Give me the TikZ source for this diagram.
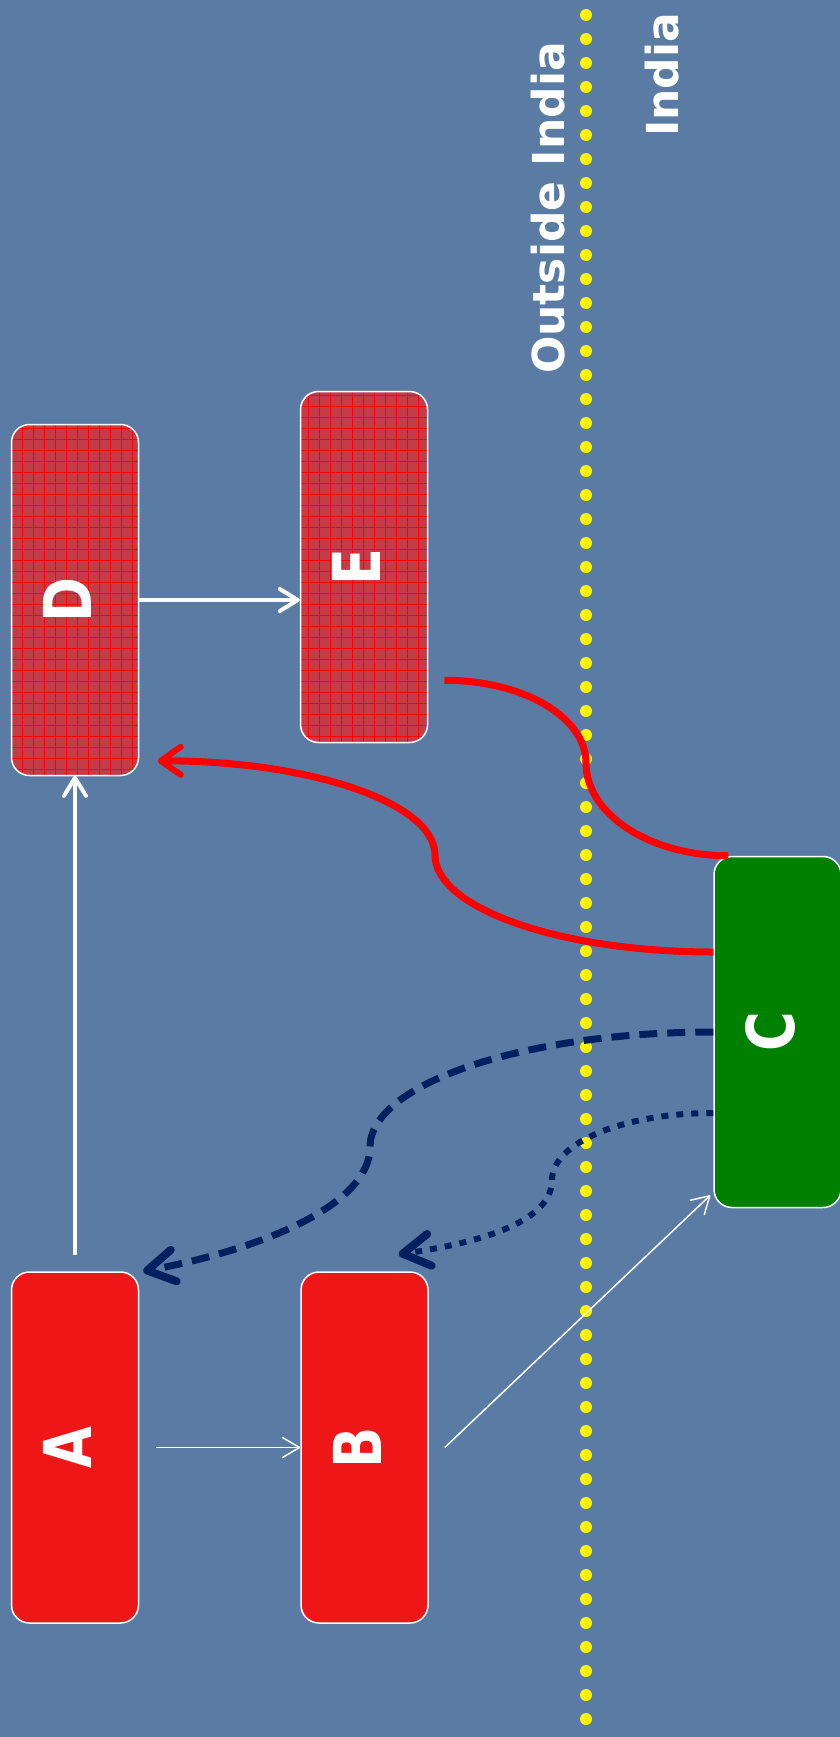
\documentclass[tikz,border=0pt]{standalone}
\usepackage{fontspec}
\setmainfont{DejaVu Sans}
\newfontfamily\boxfont{DejaVu Sans}[FakeStretch=0.82]
\usepackage{tikz}
\usetikzlibrary{arrows.meta}
\usetikzlibrary{positioning}
\usetikzlibrary{patterns.meta}

\definecolor{bgblue}{RGB}{90,124,164}
\definecolor{boxred}{RGB}{238,22,22}
\definecolor{boxdark}{RGB}{196,60,72}
\definecolor{cgreen}{RGB}{0,128,0}
\definecolor{navy}{RGB}{0,32,96}

\newcommand{\boxlabel}[1]{\rotatebox{90}{#1\vphantom{g}}}

\begin{document}
\begin{tikzpicture}[x=1pt,y=-1pt,
  box/.style={draw=white,line width=1.5pt,rounded corners=18pt,minimum width=127pt,minimum height=351pt,inner sep=0pt,text=white,font=\boxfont\bfseries\fontsize{66}{66}\selectfont},
  redbox/.style={box,fill=boxred},
  darkbox/.style={box,preaction={fill=boxdark},pattern={Hatch[distance=11pt,line width=0.6pt]},pattern color=red},
  greenbox/.style={box,fill=cgreen},
  side/.style={text=white,font=\bfseries\fontsize{44}{44}\selectfont,rotate=90,inner sep=0pt},
  flow/.style={draw=white,line width=4pt,-{Straight Barb[round,length=18pt,width=22pt]}},
  thinflow/.style={draw=white,line width=1.5pt,-{Straight Barb[round,length=17pt,width=20pt]}},
  redline/.style={draw=red,line width=7pt},
  navydash/.style={draw=navy,line width=7pt,dash pattern=on 18pt off 10pt,-{Straight Barb[round,length=27pt,width=32pt,line width=8pt]}},
  navydot/.style={draw=navy,line width=6pt,dash pattern=on 7pt off 8pt,-{Straight Barb[round,length=27pt,width=32pt,line width=8pt]}}]
  \useasboundingbox (0,0) rectangle (840,1737);
  \fill[bgblue] (0,0) rectangle (840,1737);
  %border line
  \draw[yellow,line width=12pt,line cap=round,dash pattern=on 0pt off 24pt] (586,15) -- (586,1725);
  \node[side] (outside) at (548,208) {Outside India};
  \node[side] (india) at (662,75) {India};
  %boxes
  \node[redbox] (A) at (75,1447.5) {\boxlabel{A}};
  \node[redbox,right=161pt of A] (B) {\boxlabel{B}};
  \node[darkbox] (D) at (75,600) {\boxlabel{D}};
  \node[darkbox,right=161pt of D,yshift=33pt] (E) {\boxlabel{E}};
  \node[greenbox] (C) at (777.5,1032) {\boxlabel{C}};
  %straight arrows
  \draw[flow] ([yshift=16pt]A.north) -- (D.south);
  \draw[flow] (D.east) -- (D.east -| E.west);
  \draw[thinflow] ([xshift=17pt]A.east) -- (B.west);
  \draw[thinflow] ([xshift=16pt]B.east) -- ([xshift=-3pt,yshift=13pt]C.south west);
  %curves
  \draw[redline] ([xshift=16pt,yshift=63pt]E.south east) .. controls +(79,0) and +(0,-46) .. (586,763) .. controls +(0,51) and +(-79,0) .. ([xshift=15pt]C.north west);
  \draw[redline,-{Straight Barb[round,length=20pt,width=28pt,line width=6pt]}] ([yshift=80pt]C.west) .. controls +(-154,0) and +(0,53) .. (435,855) .. controls +(0,-52) and +(153,0) .. ([xshift=19pt,yshift=15pt]D.south east);
  \draw[navydash] (C.west) .. controls +(-190,0) and +(0,-63) .. (370,1147) .. controls +(0,58) and +(118,-22) .. ([xshift=4pt]A.north east);
  \draw[navydot] ([yshift=-81pt]C.west) .. controls +(-90,0) and +(0,-37) .. (552,1180) .. controls +(0,45) and +(70,-10) .. ([xshift=-30pt,yshift=17pt]B.north east);
\end{tikzpicture}
\end{document}
